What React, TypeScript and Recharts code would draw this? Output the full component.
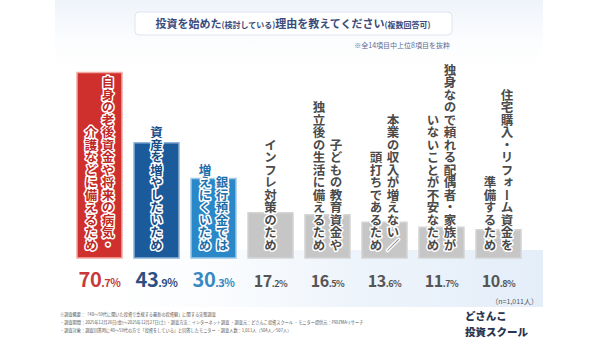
import React from "react";
import { BarChart, Bar, XAxis, YAxis, Cell, LabelList } from "recharts";

const reasonLines: string[][] = [
  ["自身の老後資金や将来の病気・", "介護などに備えるため"],
  ["資産を増やしたいため"],
  ["銀行預金では", "増えにくいため"],
  ["インフレ対策のため"],
  ["子どもの教育資金や", "独立後の生活に備えるため"],
  ["本業の収入が増えない／", "頭打ちであるため"],
  ["独身なので頼れる配偶者・家族が", "いないことが不安なため"],
  ["住宅購入・リフォーム資金を", "準備するため"],
];
const shares = [70.7, 43.9, 30.3, 17.2, 16.5, 13.6, 11.7, 10.8];
const sampleNote = "（n=1,011人）";
const footnotes = [
  "※調査概要：「40〜59代に聞いた投資で重視する最新の投資観」に関する実態調査",
  "・調査期間：2025年12月26日(金)〜2025年12月27日(土) ・調査方法：インターネット調査 ・調査元：どさんこ投資スクール ・モニター提供元：PRIZMAリサーチ",
  "・調査対象：調査回答時に40〜59代の方で「投資をしている」と回答したモニター ・調査人数：1,011人（504人／507人）",
];
const logoLines = ["どさんこ", "投資スクール"];

const BAR_FILL = ["#cf302d", "#1b5a9b", "#2a88c8", "#c6c6c6", "#c6c6c6", "#c6c6c6", "#c6c6c6", "#c6c6c6"];
const BAR_EDGE = ["#f1aaa6", "#8fb3d8", "#9cc8e6", "#d4d4d4", "#d4d4d4", "#d4d4d4", "#d4d4d4", "#d4d4d4"];
const LABEL_FILL = ["#c02826", "#174d88", "#2070ad", "#4a4a4a", "#4a4a4a", "#4a4a4a", "#4a4a4a", "#4a4a4a"];
const VALUE_FILL = ["#c8393b", "#2c4f82", "#3789c2", "#555", "#555", "#555", "#555", "#555"];

const FONT = "'Noto Sans CJK JP', 'Noto Sans', sans-serif";

const data = shares.map((v, i) => ({ name: reasonLines[i].join(""), value: v }));

function ReasonLabel(props: any) {
  const { x, y, width, height, index } = props;
  const cols = reasonLines[index];
  const cx = x + width / 2;
  const bottom = y + height - 7;
  return (
    <g>
      {cols.map((c, i) => {
        const off = cols.length === 1 ? 0 : i === 0 ? 8.5 : -8.5;
        return (
          <text
            key={i}
            x={cx + off}
            y={bottom}
            textAnchor="end"
            fontSize={12.5}
            fontWeight={700}
            fontFamily={FONT}
            fill={LABEL_FILL[index]}
            stroke="#fff"
            strokeWidth={3}
            strokeLinejoin="round"
            paintOrder="stroke"
            style={{ writingMode: "vertical-rl" }}
          >
            {c}
          </text>
        );
      })}
    </g>
  );
}

function ShareLabel(props: any) {
  const { x, y, width, height, index } = props;
  const v = shares[index].toFixed(1).split(".");
  return (
    <text
      x={x + width / 2}
      y={y + height + 29}
      textAnchor="middle"
      fontFamily={FONT}
      fontWeight={700}
      fill={VALUE_FILL[index]}
      letterSpacing={-0.5}
    >
      <tspan fontSize={index < 3 ? 20 : 16}>{v[0]}</tspan>
      <tspan fontSize={index < 3 ? 11 : 9}>.{v[1]}%</tspan>
    </text>
  );
}

export default function App() {
  return (
    <div style={{ position: "fixed", left: 0, top: 0, width: 600, height: 343, background: "#fff", fontFamily: FONT }}>
      <svg width={600} height={343} style={{ position: "absolute", left: 0, top: 0 }}>
        <defs>
          <linearGradient id="band" x1="0" y1="0" x2="1" y2="0">
            <stop offset="0" stopColor="#ffffff" stopOpacity={0} />
            <stop offset="0.6" stopColor="#eef4fb" />
            <stop offset="1" stopColor="#e4eef9" />
          </linearGradient>
          <linearGradient id="topglow" x1="0" y1="0" x2="0" y2="1">
            <stop offset="0" stopColor="#eef3fa" />
            <stop offset="1" stopColor="#ffffff" stopOpacity={0} />
          </linearGradient>
        </defs>
        <rect x={55} y={0} width={488} height={80} fill="url(#topglow)" />
        <rect x={55} y={250} width={488} height={57} fill="url(#band)" />
        <rect x={135} y={12} width={317} height={23} rx={4} fill="#fff" stroke="#dfe5ee" strokeWidth={1} />
        <text x={293} y={28} textAnchor="middle" fontFamily={FONT} fontWeight={700} fill="#3a4c7c">
          <tspan fontSize={11}>投資を始めた</tspan>
          <tspan fontSize={8}>(検討している)</tspan>
          <tspan fontSize={11}>理由を教えてください</tspan>
          <tspan fontSize={8}>(複数回答可)</tspan>
        </text>
        <text x={450} y={48} textAnchor="end" fontFamily={FONT} fontSize={7} fill="#5b6b96">
          ※全14項目中上位8項目を抜粋
        </text>
        <text x={538} y={304} textAnchor="end" fontFamily={FONT} fontSize={7} fill="#555">
          {sampleNote}
        </text>
        {footnotes.map((t, i) => (
          <text key={i} x={60} y={316 + i * 8} fontFamily={FONT} fontSize={4.2} fill="#555">
            {t}
          </text>
        ))}
        {logoLines.map((t, i) => (
          <text key={i} x={465} y={320 + i * 16} fontFamily={FONT} fontSize={10.5} fontWeight={900} fill="#2a3550">
            {t}
          </text>
        ))}
      </svg>
      <div style={{ position: "absolute", left: 0, top: 0 }}>
        <BarChart width={600} height={343} data={data} margin={{ top: 48, right: 73, bottom: 85, left: 71 }}>
          <XAxis dataKey="name" hide />
          <YAxis hide domain={[0, 80]} />
          <Bar dataKey="value" barSize={45} isAnimationActive={false}>
            {data.map((_, i) => (
              <Cell key={i} fill={BAR_FILL[i]} stroke={BAR_EDGE[i]} strokeWidth={1.5} />
            ))}
            <LabelList dataKey="value" content={<ReasonLabel />} />
            <LabelList dataKey="value" content={<ShareLabel />} />
          </Bar>
        </BarChart>
      </div>
    </div>
  );
}
